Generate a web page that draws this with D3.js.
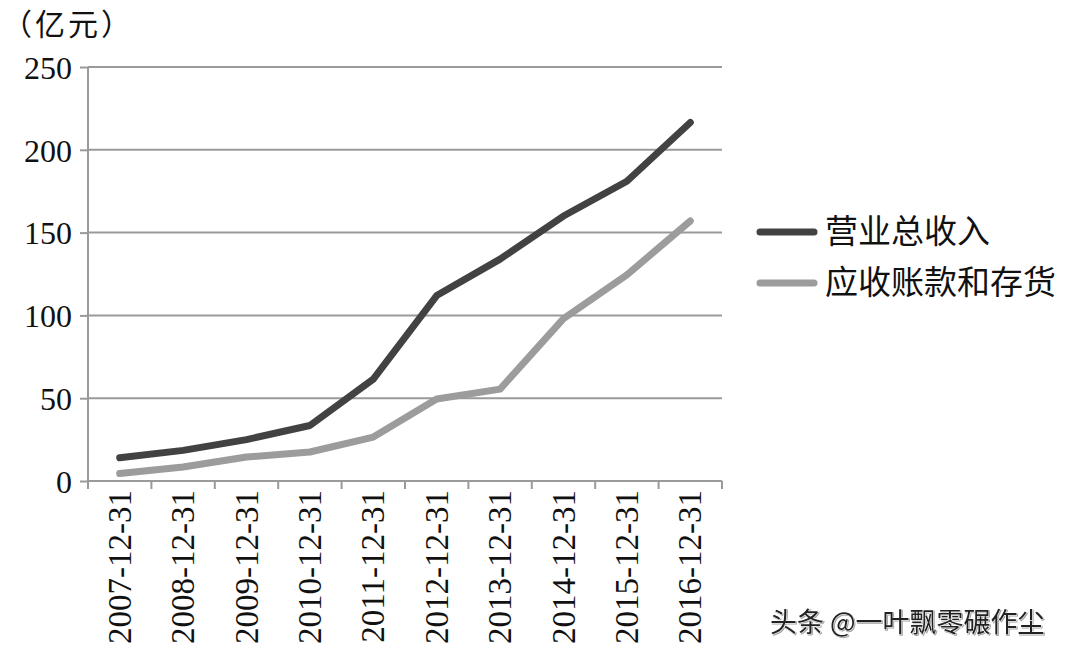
<!DOCTYPE html>
<html>
<head>
<meta charset="utf-8">
<script src="https://cdn.jsdelivr.net/npm/d3@7"></script>
<style>
  body { margin: 0; background: #fff; }
  svg { display: block; }
</style>
</head>
<body>
<div class="chart"></div>
<script>
// Parameters
const width = 1065;
const height = 654;
const margin = { top: 67, right: 343, bottom: 173, left: 88 };

// data (亿元)
const dates = ['2007-12-31', '2008-12-31', '2009-12-31', '2010-12-31', '2011-12-31',
               '2012-12-31', '2013-12-31', '2014-12-31', '2015-12-31', '2016-12-31'];
const revenue = [14, 18.5, 25, 33.5, 61.5, 112, 134, 160, 181, 216.5];
const receivablesInventory = [4.5, 8.5, 14.5, 17.5, 26.5, 49.5, 55.5, 98, 124.5, 157];
const yTicks = [0, 50, 100, 150, 200, 250];

const seriesNames = ['营业总收入', '应收账款和存货'];
const seriesColors = ['#424242', '#9c9c9c'];

const serif = 'Liberation Serif, Times New Roman, DejaVu Serif, serif';
const cjk = 'Liberation Serif, Noto Sans CJK SC, serif';

const svg = d3.select('.chart')
    .append('svg')
    .attr('width', width)
    .attr('height', height);

// scales
const scaleX = d3.scaleBand()
    .domain(dates)
    .range([margin.left, width - margin.right]);

const scaleY = d3.scaleLinear()
    .domain([0, 250])
    .range([height - margin.bottom, margin.top]);

// gridlines
svg.append('g')
    .selectAll('line')
    .data(yTicks.filter(d => d > 0))
    .join('line')
    .attr('x1', margin.left)
    .attr('x2', width - margin.right)
    .attr('y1', d => scaleY(d))
    .attr('y2', d => scaleY(d))
    .attr('stroke', '#9a9a9a')
    .attr('stroke-width', 2);

// y axis
const yAxis = svg.append('g')
    .attr('transform', `translate(${margin.left},0)`)
    .call(d3.axisLeft(scaleY).tickValues(yTicks).tickSize(8).tickPadding(8));
yAxis.attr('font-family', null).attr('font-size', null);
yAxis.selectAll('line, path').attr('stroke', '#9a9a9a').attr('stroke-width', 2);
yAxis.select('.domain').attr('d', `M0,${scaleY(0)}V${scaleY(250)}`);
yAxis.selectAll('text')
    .attr('fill', '#111')
    .attr('dy', '0.35em')
    .style('font-family', serif)
    .style('font-size', '32px');

// x axis: ticks at band boundaries
const xAxis = svg.append('g')
    .attr('transform', `translate(0,${scaleY(0)})`);
xAxis.append('line')
    .attr('x1', margin.left)
    .attr('x2', width - margin.right)
    .attr('stroke', '#9a9a9a')
    .attr('stroke-width', 2);
xAxis.selectAll('.tick')
    .data(dates.concat(['end']))
    .join('line')
    .attr('class', 'tick')
    .attr('x1', (d, i) => i < dates.length ? scaleX(d) : scaleX.range()[1])
    .attr('x2', (d, i) => i < dates.length ? scaleX(d) : scaleX.range()[1])
    .attr('y1', 0)
    .attr('y2', 8)
    .attr('stroke', '#9a9a9a')
    .attr('stroke-width', 2);
xAxis.selectAll('text')
    .data(dates)
    .join('text')
    .attr('transform', d => `translate(${scaleX(d) + scaleX.bandwidth() / 2 + 11},9) rotate(-90)`)
    .attr('text-anchor', 'end')
    .attr('fill', '#111')
    .style('font-family', serif)
    .style('font-size', '33px')
    .text(d => d);

// unit label
svg.append('text')
    .attr('x', 2)
    .attr('y', 35)
    .attr('fill', '#111')
    .style('font-family', cjk)
    .style('font-size', '30px')
    .style('letter-spacing', '3px')
    .text('（亿元）');

// lines
const line = d3.line()
    .x((d, i) => scaleX(dates[i]) + scaleX.bandwidth() / 2)
    .y(d => scaleY(d));

[revenue, receivablesInventory].forEach((values, k) => {
    svg.append('path')
        .datum(values)
        .attr('d', line)
        .attr('fill', 'none')
        .attr('stroke', seriesColors[k])
        .attr('stroke-width', 7)
        .attr('stroke-linecap', 'round')
        .attr('stroke-linejoin', 'round');
});

// legend
const legend = svg.append('g')
    .selectAll('g')
    .data(seriesNames)
    .join('g')
    .attr('transform', (d, i) => `translate(760,${232 + i * 51})`);
legend.append('line')
    .attr('x1', 0)
    .attr('x2', 54)
    .attr('stroke', (d, i) => seriesColors[i])
    .attr('stroke-width', 7)
    .attr('stroke-linecap', 'round');
legend.append('text')
    .attr('x', 65)
    .attr('y', 11)
    .attr('fill', '#111')
    .style('font-family', cjk)
    .style('font-size', '33px')
    .text(d => d);

// watermark
svg.append('text')
    .attr('x', 770)
    .attr('y', 632)
    .attr('fill', '#222')
    .attr('stroke', '#fff')
    .attr('stroke-width', 1)
    .style('font-family', 'Noto Sans CJK SC, sans-serif')
    .style('font-size', '27px')
    .style('paint-order', 'stroke')
    .style('filter', 'drop-shadow(1px 1px 0 rgba(0,0,0,0.35))')
    .text('头条 @一叶飘零碾作尘');
</script>
</body>
</html>
